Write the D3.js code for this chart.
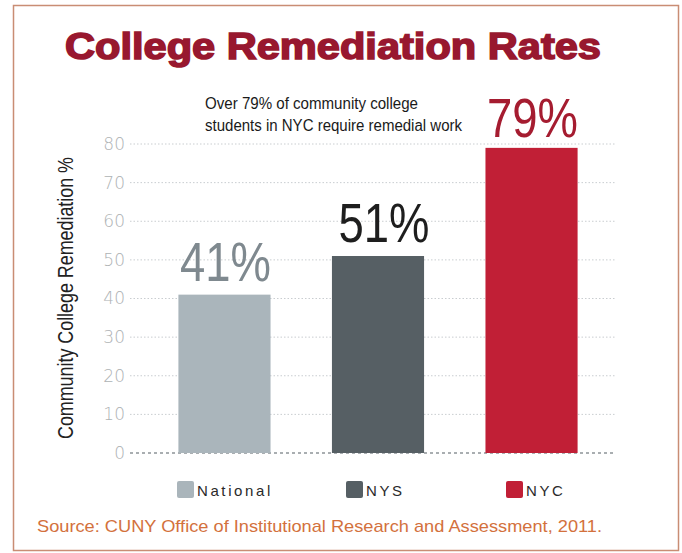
<!DOCTYPE html>
<html>
<head>
<meta charset="utf-8">
<script src="https://cdn.jsdelivr.net/npm/d3@7"></script>
<style>
  body { margin: 0; background: #fff; }
  svg { display: block; }
</style>
</head>
<body>
<script>
// chart values
const categories = ["National", "NYS", "NYC"];
const rates = [41, 51, 79];
const rateLabels = ["41%", "51%", "79%"];
const yTicks = [0, 10, 20, 30, 40, 50, 60, 70, 80];
const noteLines = ["Over 79% of community college", "students in NYC require remedial work"];

const width = 682, height = 553;

const barColor = d3.scaleOrdinal()
  .domain(categories)
  .range(["#aab5bb", "#565f64", "#c11f36"]);
const labelColor = d3.scaleOrdinal()
  .domain(categories)
  .range(["#7f898f", "#1e1e1e", "#a51c30"]);

const svg = d3.select("body").append("svg")
  .attr("width", width)
  .attr("height", height);

// outer frame
svg.append("rect")
  .attr("x", 13.5).attr("y", 5.5)
  .attr("width", 665).attr("height", 545)
  .attr("fill", "#fff")
  .attr("stroke", "#c98d74")
  .attr("stroke-width", 1.5);

// title
svg.append("text")
  .attr("x", 65).attr("y", 59)
  .attr("textLength", 536)
  .attr("lengthAdjust", "spacingAndGlyphs")
  .style("font-family", "'Liberation Sans', Arial, sans-serif")
  .style("font-weight", "bold")
  .style("font-size", "37px")
  .attr("fill", "#98182f")
  .attr("stroke", "#98182f")
  .attr("stroke-width", 1.6)
  .text("College Remediation Rates");

// scales
const x = d3.scaleBand()
  .domain(categories)
  .range([117, 639])
  .paddingInner(0.4)
  .paddingOuter(0.4);

const y = d3.scaleLinear()
  .domain([0, 80])
  .range([453, 144]);

// gridlines
const grid = svg.append("g");
grid.selectAll("line")
  .data(yTicks)
  .enter().append("line")
  .attr("x1", 130).attr("x2", 615)
  .attr("y1", d => y(d)).attr("y2", d => y(d))
  .attr("stroke", d => d === 0 ? "#8d9498" : "#c9cdd0")
  .attr("stroke-width", d => d === 0 ? 1.3 : 1)
  .attr("stroke-dasharray", d => d === 0 ? "3 3" : "1.5 2");

// y axis tick labels
const yAxis = svg.append("g")
  .attr("transform", "translate(125,0)")
  .call(d3.axisLeft(y).tickValues(yTicks).tickSize(0).tickPadding(0));
yAxis.select(".domain").remove();
yAxis.selectAll("text")
  .style("font-family", "'DejaVu Sans', sans-serif")
  .style("font-weight", "200")
  .style("font-size", "17px")
  .attr("fill", "#aeb2b4");

// y axis title
svg.append("text")
  .attr("transform", "translate(73,298) rotate(-90)")
  .attr("text-anchor", "middle")
  .attr("textLength", 282)
  .attr("lengthAdjust", "spacingAndGlyphs")
  .style("font-family", "'Liberation Sans', sans-serif")
  .style("font-size", "22px")
  .attr("fill", "#222")
  .text("Community College Remediation %");

// bars
svg.append("g").selectAll("rect")
  .data(categories)
  .enter().append("rect")
  .attr("x", d => x(d))
  .attr("width", x.bandwidth())
  .attr("y", (d, i) => y(rates[i]))
  .attr("height", (d, i) => y(0) - y(rates[i]))
  .attr("fill", d => barColor(d));

// value labels
svg.append("g").selectAll("text")
  .data(categories)
  .enter().append("text")
  .attr("x", (d, i) => x(d) + x.bandwidth() / 2 + (i === 1 ? 6 : 1))
  .attr("y", (d, i) => y(rates[i]) - (i === 2 ? 11 : 14))
  .attr("text-anchor", "middle")
  .attr("textLength", 91)
  .attr("lengthAdjust", "spacingAndGlyphs")
  .style("font-family", "'Liberation Sans', sans-serif")
  .style("font-size", "56px")
  .attr("fill", d => labelColor(d))
  .text((d, i) => rateLabels[i]);

// annotation
const noteWidths = [213, 257];
const note = svg.append("text")
  .style("font-family", "'Liberation Sans', sans-serif")
  .style("font-size", "16px")
  .attr("fill", "#1a1a1a");
note.selectAll("tspan")
  .data(noteLines)
  .enter().append("tspan")
  .attr("x", 205)
  .attr("y", (d, i) => 109 + i * 22)
  .attr("textLength", (d, i) => noteWidths[i])
  .attr("lengthAdjust", "spacingAndGlyphs")
  .text(d => d);

// legend
const legendX = [177, 346, 506];
const legend = svg.append("g").selectAll("g")
  .data(categories)
  .enter().append("g")
  .attr("transform", (d, i) => `translate(${legendX[i]},481)`);
legend.append("rect")
  .attr("width", 17).attr("height", 17)
  .attr("rx", 2)
  .attr("fill", d => barColor(d));
legend.append("text")
  .attr("x", 20).attr("y", 15)
  .style("font-family", "'Liberation Sans', sans-serif")
  .style("font-size", "15px")
  .style("letter-spacing", "2.6px")
  .attr("fill", "#2a2a2a")
  .text(d => d);

// source
svg.append("text")
  .attr("x", 37).attr("y", 532)
  .attr("textLength", 565)
  .attr("lengthAdjust", "spacingAndGlyphs")
  .style("font-family", "'Liberation Sans', sans-serif")
  .style("font-size", "17px")
  .attr("fill", "#d3713d")
  .text("Source: CUNY Office of Institutional Research and Assessment, 2011.");
</script>
</body>
</html>
